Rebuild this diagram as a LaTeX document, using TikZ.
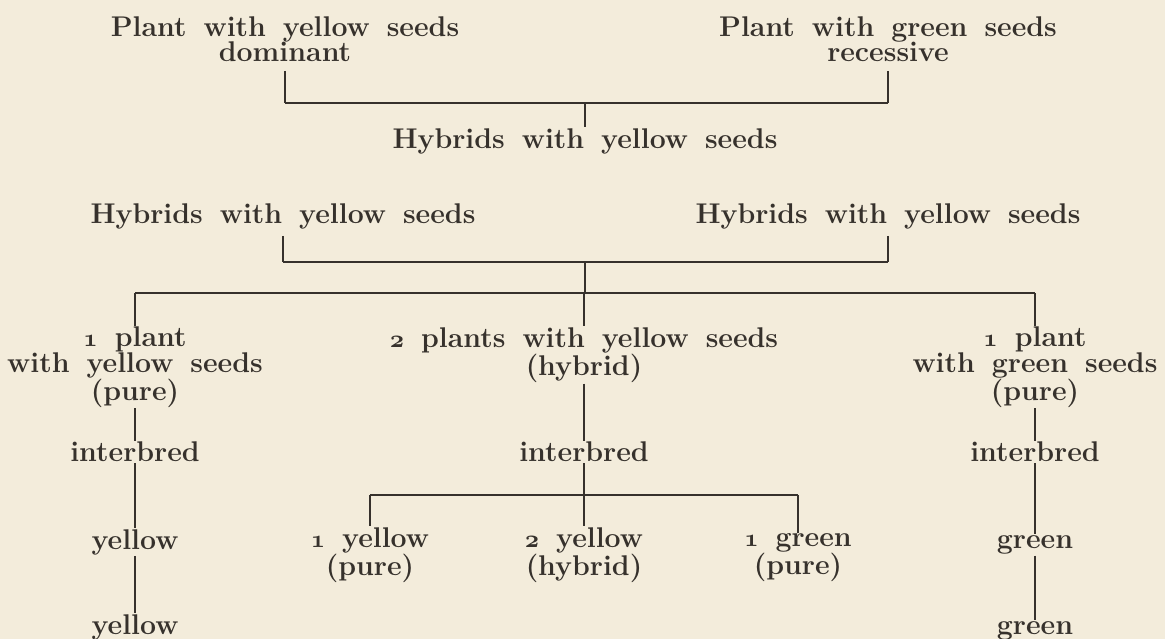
\documentclass[tikz,border=0pt]{standalone}
\usepackage{tikz}
\usetikzlibrary{positioning}
\definecolor{paper}{HTML}{F3ECDB}
\definecolor{ink}{HTML}{36312C}
\newcommand{\platefont}{\fontsize{28.5}{25.5}\selectfont\bfseries\spaceskip=17pt plus 2pt\relax}
\newcommand{\osn}[1]{{\usefont{OML}{cmm}{b}{it}#1}}

\begin{document}
\begin{tikzpicture}[x=1pt, y=-1pt,
    txt/.style={text=ink, font=\platefont, align=center, inner sep=1pt},
    link/.style={draw=ink, line width=1.3pt},
    bar/.style={draw=ink, line width=1.8pt}
]
\useasboundingbox (0,0) rectangle (1165,639);
\fill[paper] (0,0) rectangle (1165,639);

% parents
\node[txt] (yel) at (285,39) {Plant with yellow seeds\\dominant};
\node[txt] (grn) at (888,39) {Plant with green seeds\\recessive};
\node[txt] (hyb) at (585,141) {Hybrids with yellow seeds};

% hybrids crossed
\node[txt] (hybL) at (283,216) {Hybrids with yellow seeds};
\node[txt] (hybR) at (888,216) {Hybrids with yellow seeds};

% second generation
\node[txt] (pureY) at (135,367) {\osn{1} plant\\with yellow seeds\\(pure)};
\node[txt] (mixY) at (584,355) {\osn{2} plants with yellow seeds\\(hybrid)};
\node[txt] (pureG) at (1035,367) {\osn{1} plant\\with green seeds\\(pure)};

\node[txt] (interL) at (135,452) {interbred};
\node[txt] (interM) at (584,452) {interbred};
\node[txt] (interR) at (1035,452) {interbred};

\node[txt] (yelA) at (135,542) {yellow};
\node[txt] (oneY) at (370,555) {\osn{1} yellow\\(pure)};
\node[txt] (twoY) at (584,555) {\osn{2} yellow\\(hybrid)};
\node[txt] (oneG) at (798,558) {\osn{1} green\\(pure)};
\node[txt] (grnA) at (1035,545) {green};

\node[txt] (yelB) at (135,627) {yellow};
\node[txt] (grnB) at (1035,631) {green};

% bar levels
\coordinate (bar1) at (0,103);
\coordinate (bar2) at (0,262);
\coordinate (bar3) at (0,293);
\coordinate (bar4) at (0,495);

\draw[link] ([yshift=-8pt]yel.south) -- (yel.south |- bar1);
\draw[link] ([yshift=-8pt]grn.south) -- (grn.south |- bar1);
\draw[bar] (yel.south |- bar1) -- (grn.south |- bar1);
\draw[link] (hyb.north |- bar1) -- (hyb.north);

\draw[link] ([yshift=-6pt]hybL.south) -- (hybL.south |- bar2);
\draw[link] ([yshift=-6pt]hybR.south) -- (hybR.south |- bar2);
\draw[bar] (hybL.south |- bar2) -- (hybR.south |- bar2);
\draw[link] (hyb.south |- bar2) -- (hyb.south |- bar3);

\draw[bar] (pureY.north |- bar3) -- (pureG.north |- bar3);
\draw[link] (pureY.north |- bar3) -- (pureY.north);
\draw[link] (mixY.north |- bar3) -- (mixY.north);
\draw[link] (pureG.north |- bar3) -- (pureG.north);

\draw[link] (pureY) -- (interL);
\draw[link] (mixY) -- (interM);
\draw[link] (pureG) -- (interR);

\draw[link] (interL) -- (yelA);
\draw[link] (yelA) -- (yelB);
\draw[link] (interR) -- (grnA);
\draw[link] (grnA) -- (grnB);

\draw[link] (interM.south) -- (interM.south |- bar4);
\draw[bar] (oneY.north |- bar4) -- (oneG.north |- bar4);
\draw[link] (oneY.north |- bar4) -- (oneY.north);
\draw[link] (twoY.north |- bar4) -- (twoY.north);
\draw[link] (oneG.north |- bar4) -- (oneG.north);
\end{tikzpicture}
\end{document}
